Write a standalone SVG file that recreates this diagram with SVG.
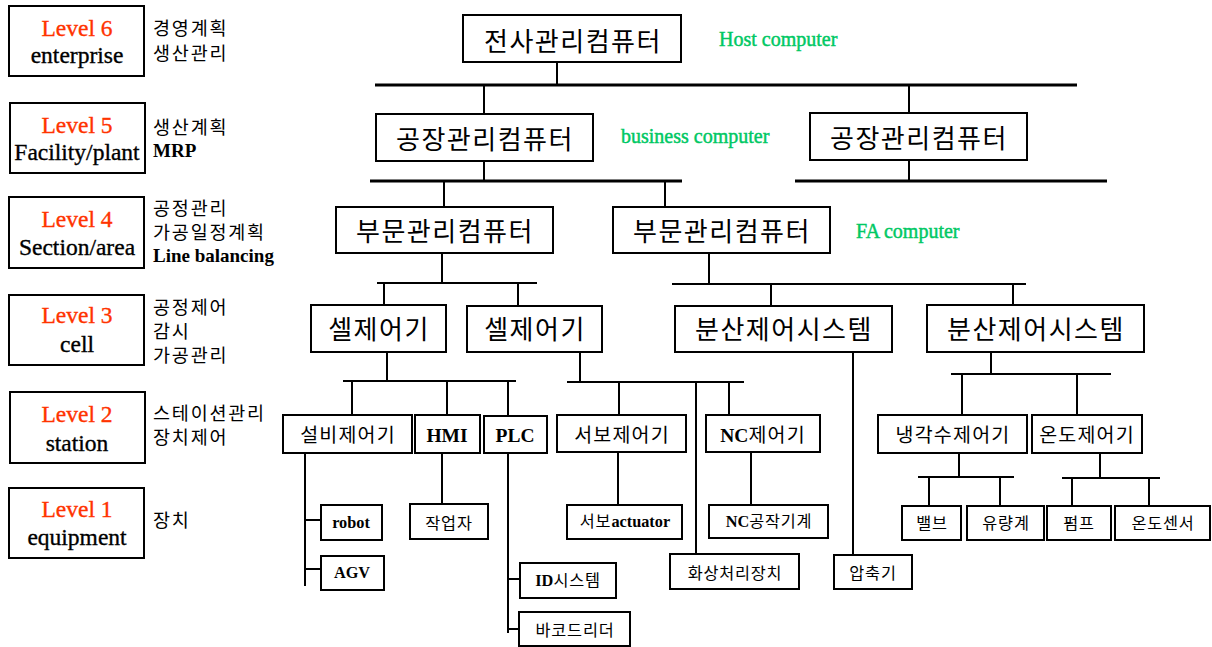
<svg xmlns="http://www.w3.org/2000/svg" width="1212" height="647" viewBox="0 0 1212 647">
<style>
rect{fill:#fff;stroke:#000;stroke-width:2}
.cn line{stroke:#000;stroke-width:2}
.cn line.bus{stroke-width:3}
.lv{font-family:"Liberation Serif",serif;font-size:23.5px;text-anchor:middle;fill:#000;stroke:#000;stroke-width:0.35px}
.red{fill:#ff3300;stroke:#ff3300}
.side{font-family:"Noto Sans CJK KR",sans-serif;font-size:18.5px;letter-spacing:1.8px;fill:#000}
.sideb{font-family:"Liberation Serif",serif;font-weight:bold;font-size:19px;fill:#000}
.big{font-family:"Noto Sans CJK KR",sans-serif;font-size:26px;letter-spacing:1.5px;text-anchor:middle;fill:#000}
.mid{font-family:"Noto Sans CJK KR",sans-serif;font-size:19.5px;letter-spacing:1.2px;text-anchor:middle;fill:#000}
.sm{font-family:"Noto Sans CJK KR",sans-serif;font-size:16.3px;letter-spacing:0.8px;text-anchor:middle;fill:#000}
.tb{font-family:"Liberation Serif",serif;font-weight:bold;letter-spacing:0}
.grn{font-family:"Liberation Serif",serif;font-size:20px;fill:#00c864;stroke:#00c864;stroke-width:0.45px}
</style>

<g id="level6"><rect x="9" y="6" width="135" height="70"/><text class="lv red" x="77" y="36">Level 6</text><text class="lv" x="77" y="63">enterprise</text><text class="side" x="153" y="35">경영계획</text><text class="side" x="153" y="60">생산관리</text></g>
<g id="level5"><rect x="10" y="103" width="135" height="70"/><text class="lv red" x="77" y="133">Level 5</text><text class="lv" x="77" y="160">Facility/plant</text><text class="side" x="153" y="134">생산계획</text><text class="sideb" x="153" y="157">MRP</text></g>
<g id="level4"><rect x="9" y="197" width="135" height="71"/><text class="lv red" x="77" y="227">Level 4</text><text class="lv" x="77" y="255">Section/area</text><text class="side" x="153" y="215">공정관리</text><text class="side" x="153" y="239">가공일정계획</text><text class="sideb" x="153" y="262">Line balancing</text></g>
<g id="level3"><rect x="9" y="295" width="135" height="70"/><text class="lv red" x="77" y="323">Level 3</text><text class="lv" x="77" y="352">cell</text><text class="side" x="153" y="314">공정제어</text><text class="side" x="153" y="338">감시</text><text class="side" x="153" y="362">가공관리</text></g>
<g id="level2"><rect x="10" y="392" width="135" height="71"/><text class="lv red" x="77" y="422">Level 2</text><text class="lv" x="77" y="451">station</text><text class="side" x="153" y="420">스테이션관리</text><text class="side" x="153" y="444">장치제어</text></g>
<g id="level1"><rect x="9" y="488" width="135" height="70"/><text class="lv red" x="77" y="517">Level 1</text><text class="lv" x="77" y="545">equipment</text><text class="side" x="153" y="527">장치</text></g>

<g id="connectors" class="cn">
<line class="bus" x1="375" y1="85" x2="1077" y2="85"/>
<line x1="557" y1="62" x2="557" y2="85"/>
<line x1="484" y1="85" x2="484" y2="114"/>
<line x1="909" y1="85" x2="909" y2="113"/>
<line x1="484" y1="161" x2="484" y2="181"/>
<line class="bus" x1="370" y1="181" x2="682" y2="181"/>
<line x1="444" y1="181" x2="444" y2="207"/>
<line x1="665" y1="181" x2="665" y2="207"/>
<line x1="909" y1="160" x2="909" y2="181"/>
<line class="bus" x1="795" y1="181" x2="1107" y2="181"/>
<line x1="442" y1="253" x2="442" y2="283"/>
<line x1="377" y1="283" x2="537" y2="283"/>
<line x1="384" y1="283" x2="384" y2="305"/>
<line x1="518" y1="283" x2="518" y2="306"/>
<line x1="709" y1="253" x2="709" y2="284"/>
<line x1="672" y1="284" x2="1026" y2="284"/>
<line x1="771" y1="284" x2="771" y2="306"/>
<line x1="1013" y1="284" x2="1013" y2="305"/>
<line x1="387" y1="352" x2="387" y2="381"/>
<line x1="343" y1="381" x2="516" y2="381"/>
<line x1="352" y1="381" x2="352" y2="415"/>
<line x1="447" y1="381" x2="447" y2="415"/>
<line x1="508" y1="381" x2="508" y2="416"/>
<line x1="580" y1="352" x2="580" y2="382"/>
<line x1="567" y1="382" x2="744" y2="382"/>
<line x1="619" y1="382" x2="619" y2="415"/>
<line x1="696" y1="382" x2="696" y2="554"/>
<line x1="729" y1="382" x2="729" y2="415"/>
<line x1="853" y1="352" x2="853" y2="555"/>
<line x1="991" y1="352" x2="991" y2="374"/>
<line x1="951" y1="374" x2="1111" y2="374"/>
<line x1="962" y1="374" x2="962" y2="415"/>
<line x1="1077" y1="374" x2="1077" y2="415"/>
<line x1="959" y1="453" x2="959" y2="477"/>
<line x1="918" y1="477" x2="1014" y2="477"/>
<line x1="929" y1="477" x2="929" y2="506"/>
<line x1="1000" y1="477" x2="1000" y2="506"/>
<line x1="1100" y1="453" x2="1100" y2="478"/>
<line x1="1062" y1="478" x2="1160" y2="478"/>
<line x1="1072" y1="478" x2="1072" y2="506"/>
<line x1="1149" y1="478" x2="1149" y2="506"/>
<line x1="305" y1="453" x2="305" y2="586"/>
<line x1="305" y1="520" x2="321" y2="520"/>
<line x1="305" y1="569" x2="321" y2="569"/>
<line x1="442" y1="453" x2="442" y2="504"/>
<line x1="508" y1="453" x2="508" y2="633"/>
<line x1="508" y1="579" x2="520" y2="579"/>
<line x1="508" y1="629" x2="519" y2="629"/>
<line x1="618" y1="452" x2="618" y2="505"/>
<line x1="751" y1="452" x2="751" y2="505"/>
</g>

<g id="host"><rect x="463" y="15" width="218" height="47"/><text class="big" x="573" y="51">전사관리컴퓨터</text></g>
<text class="grn" x="719" y="46">Host computer</text>
<g id="plant1"><rect x="376" y="114" width="217" height="47"/><text class="big" x="485" y="149">공장관리컴퓨터</text></g>
<text class="grn" x="621" y="143">business computer</text>
<g id="plant2"><rect x="810" y="113" width="217" height="47"/><text class="big" x="919" y="148">공장관리컴퓨터</text></g>
<g id="section1"><rect x="336" y="207" width="217" height="46"/><text class="big" x="445" y="241">부문관리컴퓨터</text></g>
<g id="section2"><rect x="613" y="207" width="217" height="46"/><text class="big" x="722" y="241">부문관리컴퓨터</text></g>
<text class="grn" x="856" y="238">FA computer</text>
<g id="cell1"><rect x="311" y="305" width="135" height="47"/><text class="big" x="379" y="339">셀제어기</text></g>
<g id="cell2"><rect x="467" y="306" width="135" height="46"/><text class="big" x="535" y="339">셀제어기</text></g>
<g id="dcs1"><rect x="675" y="306" width="217" height="46"/><text class="big" x="784" y="339">분산제어시스템</text></g>
<g id="dcs2"><rect x="927" y="305" width="217" height="47"/><text class="big" x="1036" y="339">분산제어시스템</text></g>

<g id="equipctl"><rect x="283" y="415" width="129" height="38"/><text class="mid" x="348" y="442">설비제어기</text></g>
<g id="hmi"><rect x="415" y="415" width="65" height="38"/><text class="mid tb" x="447" y="442" font-size="19">HMI</text></g>
<g id="plc"><rect x="484" y="416" width="63" height="37"/><text class="mid tb" x="515" y="442" font-size="19">PLC</text></g>
<g id="servoctl"><rect x="557" y="415" width="129" height="37"/><text class="mid" x="622" y="442">서보제어기</text></g>
<g id="ncctl"><rect x="706" y="415" width="114" height="37"/><text class="mid" x="763" y="442"><tspan class="tb">NC</tspan>제어기</text></g>
<g id="coolctl"><rect x="878" y="415" width="149" height="38"/><text class="mid" x="953" y="442">냉각수제어기</text></g>
<g id="tempctl"><rect x="1032" y="415" width="110" height="38"/><text class="mid" x="1087" y="442">온도제어기</text></g>

<g id="robot"><rect x="321" y="505" width="61" height="35"/><text class="sm tb" x="351" y="528" font-size="15.5">robot</text></g>
<g id="agv"><rect x="321" y="556" width="63" height="34"/><text class="sm tb" x="352" y="578" font-size="15.5">AGV</text></g>
<g id="worker"><rect x="410" y="504" width="78" height="35"/><text class="sm" x="449" y="529">작업자</text></g>
<g id="idsys"><rect x="520" y="563" width="96" height="35"/><text class="sm" x="568" y="586"><tspan class="tb">ID</tspan>시스템</text></g>
<g id="barcode"><rect x="519" y="612" width="111" height="34"/><text class="sm" x="575" y="636">바코드리더</text></g>
<g id="servoact"><rect x="567" y="505" width="115" height="34"/><text class="sm" x="625" y="527">서보<tspan class="tb">actuator</tspan></text></g>
<g id="ncmachine"><rect x="709" y="505" width="119" height="33"/><text class="sm" x="769" y="527"><tspan class="tb">NC</tspan>공작기계</text></g>
<g id="vision"><rect x="670" y="554" width="129" height="35"/><text class="sm" x="735" y="579">화상처리장치</text></g>
<g id="compressor"><rect x="834" y="555" width="78" height="34"/><text class="sm" x="873" y="579">압축기</text></g>
<g id="valve"><rect x="902" y="506" width="59" height="34"/><text class="sm" x="932" y="529">밸브</text></g>
<g id="flowmeter"><rect x="967" y="506" width="77" height="34"/><text class="sm" x="1006" y="529">유량계</text></g>
<g id="pump"><rect x="1047" y="506" width="64" height="34"/><text class="sm" x="1079" y="529">펌프</text></g>
<g id="tempsensor"><rect x="1115" y="506" width="95" height="34"/><text class="sm" x="1163" y="529">온도센서</text></g>
</svg>
